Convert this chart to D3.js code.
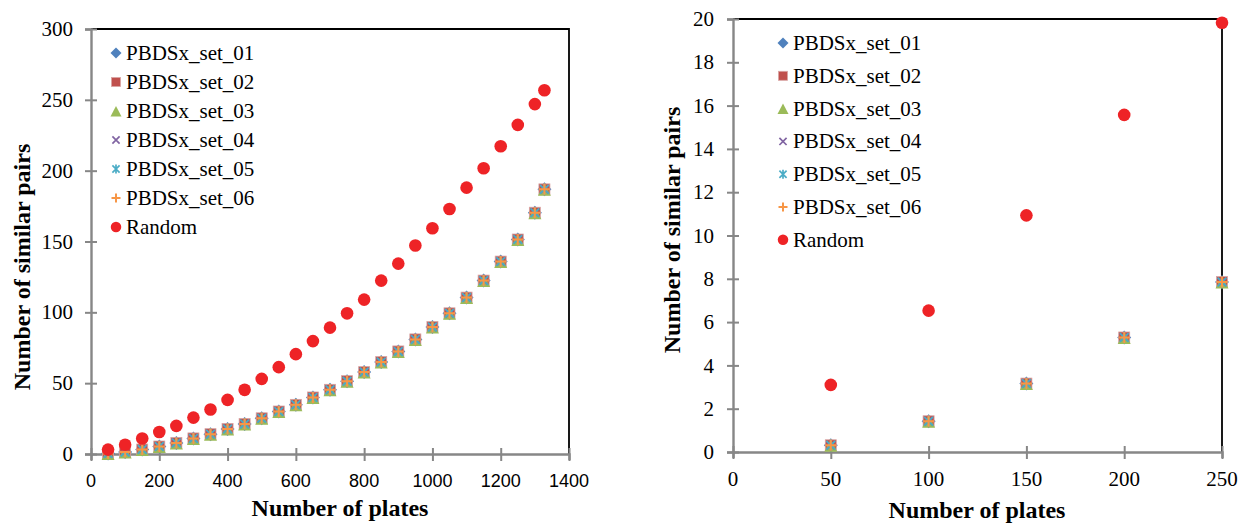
<!DOCTYPE html>
<meta charset="utf-8">
<body marginwidth="0" marginheight="0" leftmargin="0" topmargin="0">
<svg width="1239" height="526"></svg>
<script src="https://d3js.org/d3.v7.min.js"></script>
<script>

// ---- left panel: all plate counts ----
var platesAll = [50, 100, 150, 200, 250, 300, 350, 400, 450, 500, 550, 600, 650, 700,
                 750, 800, 850, 900, 950, 1000, 1050, 1100, 1150, 1200, 1250, 1300, 1328];
var similarAll = [0.31, 1.42, 3.16, 5.29, 7.85, 11, 14, 17.7, 21.2, 25.2, 30, 34.7, 39.9, 45.3,
                  51.4, 57.8, 64.9, 72.4, 80.9, 89.6, 99.3, 110.4, 122.4, 135.8, 151.4, 170.3, 186.8];
var randomAll = [3.1, 6.53, 10.93, 15.57, 19.83, 25.7, 31.4, 38.2, 45.3, 53, 61.3, 70.5, 79.7, 89.2,
                 99.3, 109, 122.4, 134.4, 147.2, 159.4, 172.9, 188, 201.7, 217.2, 232.3, 247, 256.8];
var xTicksAll = [0, 200, 400, 600, 800, 1000, 1200, 1400];
var yTicksAll = [0, 50, 100, 150, 200, 250, 300];

// ---- right panel: first 250 plates ----
var platesSmall = [50, 100, 150, 200, 250];
var similarSmall = [0.31, 1.42, 3.16, 5.29, 7.85];
var randomSmall = [3.1, 6.53, 10.93, 15.57, 19.83];
var xTicksSmall = [0, 50, 100, 150, 200, 250];
var yTicksSmall = [0, 2, 4, 6, 8, 10, 12, 14, 16, 18, 20];

var seriesNames = ["PBDSx_set_01", "PBDSx_set_02", "PBDSx_set_03", "PBDSx_set_04",
                   "PBDSx_set_05", "PBDSx_set_06", "Random"];
var seriesColors = ["#4f81bd", "#c0504d", "#9bbb59", "#8064a2", "#4bacc6", "#f79646", "#ee2326"];
var seriesShapes = ["diamond", "square", "triangle", "x", "asterisk", "plus", "circle"];

var serifFont = "Liberation Serif";
var sansFont = "Liberation Sans";

var svg = d3.select("svg");

function marker(g, shape, color, s) {
  var h = s / 2;
  if (shape == "diamond") {
    g.append("path").attr("d", "M0," + (-h - 1) + "L" + (h + 1) + ",0L0," + (h + 1) + "L" + (-h - 1) + ",0Z").attr("fill", color);
  } else if (shape == "square") {
    g.append("rect").attr("x", -h).attr("y", -h).attr("width", s).attr("height", s)
      .attr("fill", color).attr("stroke", "#d9a5a4").attr("stroke-width", 0.8);
  } else if (shape == "triangle") {
    g.append("path").attr("d", "M0," + (-h) + "L" + (h + 0.5) + "," + (h + 0.5) + "L" + (-h - 0.5) + "," + (h + 0.5) + "Z").attr("fill", color);
  } else if (shape == "circle") {
    g.append("circle").attr("r", h).attr("fill", color);
  } else {
    var d = "";
    var k = h * 0.8;
    if (shape == "x" || shape == "asterisk") d += "M" + (-k) + "," + (-k) + "L" + k + "," + k + "M" + (-k) + "," + k + "L" + k + "," + (-k);
    if (shape == "asterisk") d += "M0," + (-h) + "V" + h;
    if (shape == "plus") d += "M" + (-h) + ",0H" + h + "M0," + (-h) + "V" + h;
    g.append("path").attr("d", d).attr("fill", "none").attr("stroke", color).attr("stroke-width", shape == "plus" ? 2 : 1.7);
  }
}

var markerSize = [12, 11, 12, 10, 11, 11, 12.6];
var legendSize = [9, 9, 10, 9, 9, 9, 10.5];

function label(txt, px, py, size, fam, anchor) {
  return svg.append("text")
    .attr("x", px).attr("y", py)
    .attr("font-size", size)
    .attr("font-family", fam)
    .attr("text-anchor", anchor)
    .style("font-family", fam)
    .text(txt);
}

function panel(o) {
  var x = d3.scaleLinear().domain(o.xDomain).range([o.left, o.right]);
  var y = d3.scaleLinear().domain(o.yDomain).range([o.bottom, o.top]);
  var g = svg.append("g");

  g.append("path")
    .attr("d", "M" + o.left + "," + o.top + "H" + o.right + "V" + o.bottom)
    .attr("fill", "none").attr("stroke", "#000").attr("stroke-width", 1.8);

  var xa = g.append("g")
    .attr("transform", "translate(0," + o.bottom + ")")
    .call(d3.axisBottom(x).tickValues(o.xTicks).tickFormat("").tickSizeOuter(0).tickSize(6));
  xa.selectAll(".tick text").remove();
  xa.select(".domain").attr("stroke", "#878787").attr("stroke-width", 2.4);
  xa.selectAll(".tick line").attr("y1", -6).attr("y2", 7).attr("stroke", "#878787").attr("stroke-width", 2);

  var ya = g.append("g")
    .attr("transform", "translate(" + o.left + ",0)")
    .call(d3.axisLeft(y).tickValues(o.yTicks).tickFormat("").tickSizeOuter(0).tickSize(6));
  ya.selectAll(".tick text").remove();
  ya.select(".domain").attr("stroke", "#878787").attr("stroke-width", 2.4);
  ya.selectAll(".tick line").attr("x1", 6).attr("x2", -6).attr("stroke", "#878787").attr("stroke-width", 2);

  o.xTicks.forEach(function(t) {
    label(String(t), x(t), o.bottom + o.xLabelY, o.xFontSize, o.xFont, "middle");
  });
  o.yTicks.forEach(function(t) {
    label(String(t), o.left - o.yLabelGap, y(t) + o.yFontSize * 0.34, o.yFontSize, serifFont, "end");
  });

  // six PBDSx sets then random on top
  o.series.forEach(function(vals, si) {
    g.append("g").selectAll("g")
      .data(o.xs.map(function(v, i) { return [v, vals[i]]; }))
      .enter().append("g")
        .attr("transform", function(d) { return "translate(" + x(d[0]) + "," + y(d[1]) + ")"; })
        .each(function() { marker(d3.select(this), seriesShapes[si], seriesColors[si], markerSize[si]); });
  });

  label("Number of plates", o.xTitleX, o.xTitleY, 24, serifFont, "middle")
    .attr("font-weight", "bold");

  label("Number of similar pairs", 0, 0, 24, serifFont, "middle")
    .attr("font-weight", "bold")
    .attr("transform", "translate(" + o.yTitleX + "," + o.yTitleY + ") rotate(-90)");

  seriesNames.forEach(function(name, i) {
    var ly = o.legY + i * o.legStep;
    var mg = svg.append("g").attr("transform", "translate(" + o.legX + "," + ly + ")");
    marker(mg, seriesShapes[i], seriesColors[i], legendSize[i]);
    label(name, o.legX + 10, ly + o.legFont * 0.33, o.legFont, serifFont, "start");
  });
}

panel({
  left: 91, right: 569, top: 29, bottom: 454,
  xDomain: [0, 1400], yDomain: [0, 300],
  xTicks: xTicksAll, yTicks: yTicksAll,
  xs: platesAll,
  series: [similarAll, similarAll, similarAll, similarAll, similarAll, similarAll, randomAll],
  xFont: sansFont, xFontSize: 18, xLabelY: 33,
  yFontSize: 21, yLabelGap: 18,
  xTitleX: 340, xTitleY: 516,
  yTitleX: 30, yTitleY: 267,
  legX: 116, legY: 53, legStep: 29, legFont: 21
});

panel({
  left: 733, right: 1222, top: 19, bottom: 452,
  xDomain: [0, 250], yDomain: [0, 20],
  xTicks: xTicksSmall, yTicks: yTicksSmall,
  xs: platesSmall,
  series: [similarSmall, similarSmall, similarSmall, similarSmall, similarSmall, similarSmall, randomSmall],
  xFont: serifFont, xFontSize: 21, xLabelY: 34,
  yFontSize: 21, yLabelGap: 19,
  xTitleX: 977, xTitleY: 518,
  yTitleX: 680, yTitleY: 230,
  legX: 783, legY: 43, legStep: 32.8, legFont: 21
});

</script>
</body>
